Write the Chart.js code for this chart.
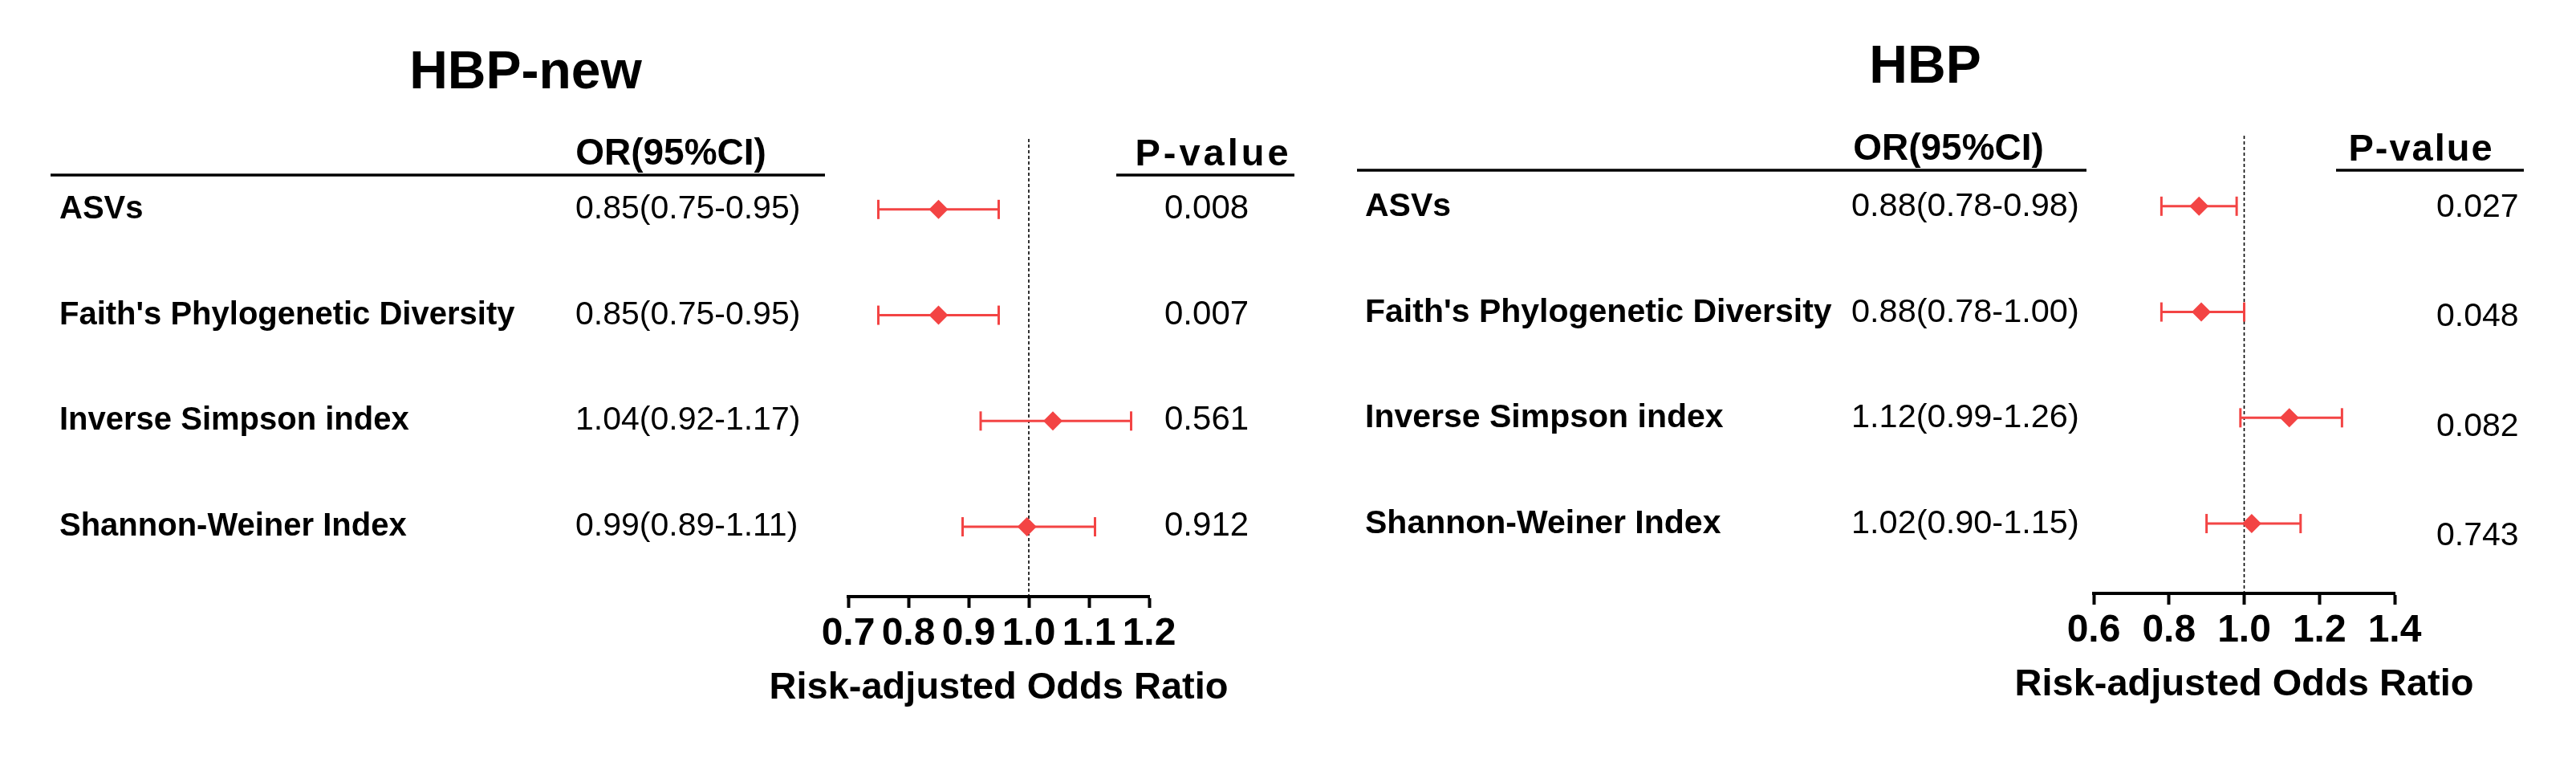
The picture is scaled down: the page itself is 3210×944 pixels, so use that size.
<!DOCTYPE html>
<html>
<head>
<meta charset="utf-8">
<script src="https://cdn.jsdelivr.net/npm/chart.js@4.4.1/dist/chart.umd.min.js"></script>
<style>
  html, body { margin: 0; padding: 0; background: #ffffff; }
  #wrap { position: relative; width: 3210px; height: 944px; background: #ffffff; }
  #wrap canvas { position: absolute; left: 0; top: 0; }
</style>
</head>
<body>
<div id="wrap">
  <canvas id="cNew" width="3210" height="944"></canvas>
  <canvas id="cHbp" width="3210" height="944"></canvas>
</div>
<script>
// ---------- data ----------
const rowLabels = ["ASVs", "Faith's Phylogenetic Diversity", "Inverse Simpson index", "Shannon-Weiner Index"];

// HBP-new panel
const newOR    = [0.85, 0.85, 1.04, 0.997];
const newLow   = [0.75, 0.75, 0.92, 0.89];
const newHigh  = [0.95, 0.95, 1.17, 1.11];
const newORText = ["0.85(0.75-0.95)", "0.85(0.75-0.95)", "1.04(0.92-1.17)", "0.99(0.89-1.11)"];
const newP     = ["0.008", "0.007", "0.561", "0.912"];
const newTicks = [0.7, 0.8, 0.9, 1.0, 1.1, 1.2];

// HBP panel
const hbpOR    = [0.88, 0.886, 1.12, 1.02];
const hbpLow   = [0.78, 0.78, 0.99, 0.90];
const hbpHigh  = [0.98, 1.00, 1.26, 1.15];
const hbpORText = ["0.88(0.78-0.98)", "0.88(0.78-1.00)", "1.12(0.99-1.26)", "1.02(0.90-1.15)"];
const hbpP     = ["0.027", "0.048", "0.082", "0.743"];
const hbpTicks = [0.6, 0.8, 1.0, 1.2, 1.4];

const refValue = 1.0;
const axisTitle = "Risk-adjusted Odds Ratio";

// ---------- styling ----------
const RED = '#F34444';
const FONT = "'Liberation Sans', Arial, Helvetica, sans-serif";
Chart.defaults.font.family = FONT;
Chart.defaults.color = '#000';
const Y_MIN = 1 / 3, Y_MAX = 4.66;

function makePanel(canvasId, d, L) {
  const datasets = [];
  // reference line at OR = 1
  datasets.push({
    data: [{ x: refValue, y: Y_MIN }, { x: refValue, y: Y_MAX }],
    showLine: true, borderColor: '#000', borderWidth: 1.6, borderDash: [4, 3],
    pointRadius: 0, order: 3
  });
  // confidence intervals with caps
  d.low.forEach((lo, i) => {
    datasets.push({
      data: [{ x: lo, y: i + 1 }, { x: d.high[i], y: i + 1 }],
      showLine: true, borderColor: RED, borderWidth: 3,
      pointStyle: 'line', rotation: 90, pointRadius: 12,
      pointBorderWidth: 3, pointBorderColor: RED, pointBackgroundColor: RED,
      order: 2
    });
  });
  // point estimates (diamonds)
  datasets.push({
    data: d.or.map((v, i) => ({ x: v, y: i + 1 })),
    pointStyle: 'rectRot', pointRadius: 12, pointHoverRadius: 12,
    backgroundColor: RED, borderColor: RED, borderWidth: 0, order: 1
  });

  const textPlugin = {
    id: 'tableText',
    afterDraw(chart) {
      const ctx = chart.ctx;
      const ys = chart.scales.y;
      const xs = chart.scales.x;
      ctx.save();
      ctx.fillStyle = '#000';
      ctx.strokeStyle = '#000';
      // title
      ctx.font = 'bold 66px ' + FONT;
      ctx.textAlign = 'center'; ctx.textBaseline = 'alphabetic';
      ctx.fillText(d.title, L.titleX, L.titleY);
      // OR header
      ctx.font = 'bold 46px ' + FONT;
      ctx.fillText('OR(95%CI)', L.orHeadX, L.orHeadY);
      // P-value header
      ctx.font = 'bold 47px ' + FONT;
      ctx.letterSpacing = L.pLetter + 'px';
      ctx.fillText('P-value', L.pHeadX, L.pHeadY);
      ctx.letterSpacing = '0px';
      // axis title, centred on the axis
      ctx.font = 'bold 47px ' + FONT;
      ctx.fillText(axisTitle, (xs.left + xs.right) / 2, L.axisTitleY);
      // underlines
      ctx.lineWidth = 3.5;
      ctx.beginPath();
      ctx.moveTo(L.ulLeft[0], L.ulLeft[2]); ctx.lineTo(L.ulLeft[1], L.ulLeft[2]);
      ctx.moveTo(L.ulP[0], L.ulP[2]); ctx.lineTo(L.ulP[1], L.ulP[2]);
      ctx.stroke();
      // rows
      rowLabels.forEach((lab, i) => {
        const y = ys.getPixelForValue(i + 1);
        ctx.textAlign = 'left';
        ctx.font = 'bold ' + L.labelSize + 'px ' + FONT;
        ctx.fillText(lab, L.labelX, y + L.labelDy);
        ctx.font = L.orSize + 'px ' + FONT;
        ctx.fillText(d.orText[i], L.orX, y + L.labelDy);
        ctx.font = L.pSize + 'px ' + FONT;
        ctx.fillText(d.p[i], L.pX, y + L.pDy + L.pStep * i);
      });
      ctx.restore();
    }
  };

  return new Chart(document.getElementById(canvasId), {
    type: 'scatter',
    data: { datasets },
    options: {
      responsive: false,
      animation: false,
      devicePixelRatio: 1,
      events: [],
      layout: { padding: { left: L.areaLeft, right: 3210 - L.areaRight, top: L.areaTop, bottom: 0 } },
      plugins: { legend: { display: false }, tooltip: { enabled: false } },
      scales: {
        x: {
          type: 'linear', position: 'bottom',
          min: d.ticks[0], max: d.ticks[d.ticks.length - 1],
          afterBuildTicks: (s) => { s.ticks = d.ticks.map(v => ({ value: v })); },
          afterFit: (s) => { s.height = 944 - L.areaBottom; },
          ticks: {
            color: '#000', padding: 4, maxRotation: 0, autoSkip: false,
            font: { size: 48, weight: 'bold' },
            callback: (v) => Number(v).toFixed(1)
          },
          grid: { display: true, drawOnChartArea: false, drawTicks: true, tickLength: 14, tickWidth: 4, tickColor: '#000' },
          border: { display: true, color: '#000', width: 4 },
          title: { display: false }
        },
        y: { type: 'linear', display: false, reverse: true, min: Y_MIN, max: Y_MAX }
      }
    },
    plugins: [textPlugin]
  });
}

makePanel('cNew',
  { title: 'HBP-new', or: newOR, low: newLow, high: newHigh, orText: newORText, p: newP, ticks: newTicks },
  { areaLeft: 1057, areaRight: 1432, areaTop: 173, areaBottom: 743, axisTitleY: 870,
    titleX: 655, titleY: 110, orHeadX: 836, orHeadY: 205, pHeadX: 1512, pHeadY: 206, pLetter: 4,
    ulLeft: [63, 1028, 218], ulP: [1391, 1613, 218],
    labelX: 74, labelSize: 40, orX: 717, orSize: 41, labelDy: 11,
    pX: 1451, pSize: 42, pDy: 11, pStep: 0 });

makePanel('cHbp',
  { title: 'HBP', or: hbpOR, low: hbpLow, high: hbpHigh, orText: hbpORText, p: hbpP, ticks: hbpTicks },
  { areaLeft: 2609, areaRight: 2984, areaTop: 169, areaBottom: 739, axisTitleY: 866,
    titleX: 2399, titleY: 103, orHeadX: 2428, orHeadY: 199, pHeadX: 3017, pHeadY: 200, pLetter: 2,
    ulLeft: [1691, 2600, 212], ulP: [2911, 3145, 212],
    labelX: 1701, labelSize: 41, orX: 2307, orSize: 41.5, labelDy: 12,
    pX: 3036, pSize: 41, pDy: 13, pStep: 4.7 });
</script>
</body>
</html>
